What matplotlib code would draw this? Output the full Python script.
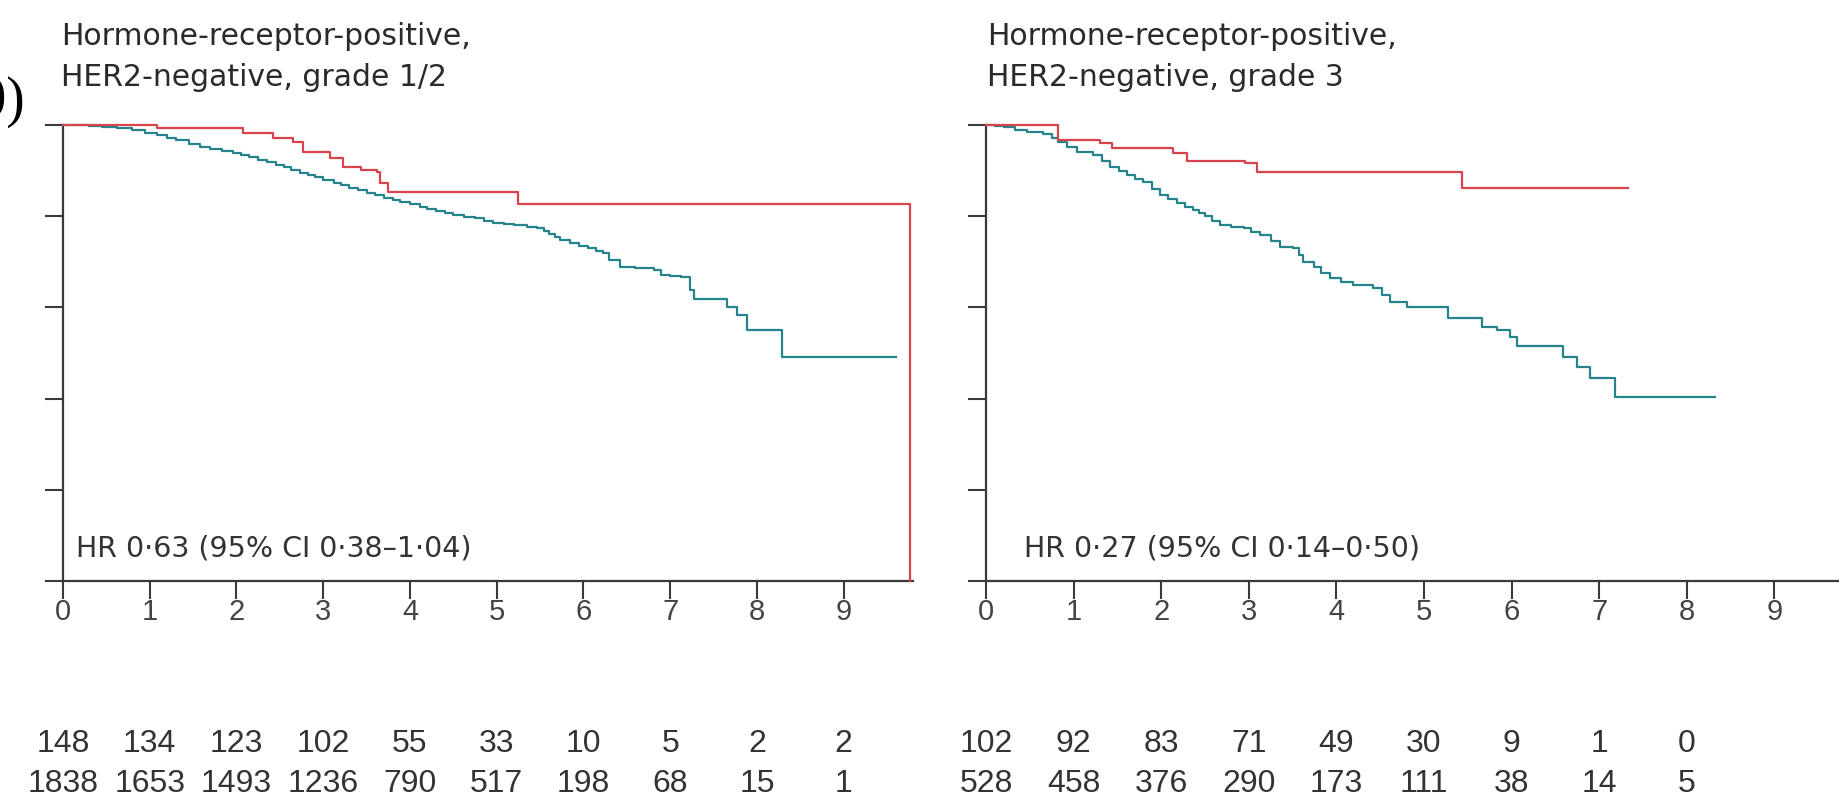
import matplotlib
matplotlib.use("Agg")
import matplotlib.pyplot as plt
import matplotlib.transforms as mtransforms

W, H, DPI = 1839, 805, 100

# ---- data -------------------------------------------------------------
years = list(range(10))

g12_title = ["Hormone-receptor-positive,", "HER2-negative, grade 1/2"]
g3_title = ["Hormone-receptor-positive,", "HER2-negative, grade 3"]
g12_hr = "HR 0\u00b763 (95% CI 0\u00b738\u20131\u00b704)"
g3_hr = "HR 0\u00b727 (95% CI 0\u00b714\u20130\u00b750)"

# Kaplan-Meier estimates: time (years) and survival proportion
g12_red_t = [0, 1.08, 2.08, 2.42, 2.65, 2.77, 3.08, 3.23, 3.43, 3.62, 3.66, 3.75, 5.25, 9.77]
g12_red_s = [1.0, 0.993, 0.982, 0.971, 0.963, 0.941, 0.928, 0.908, 0.901, 0.897, 0.873, 0.853, 0.827, 0.0]

g12_teal_t = [0, 0.15, 0.3, 0.45, 0.62, 0.8, 0.95, 1.08, 1.2, 1.3, 1.45, 1.58, 1.7, 1.83, 1.96,
              2.05, 2.15, 2.25, 2.35, 2.45, 2.55, 2.63, 2.73, 2.82, 2.9, 3.0, 3.12, 3.2, 3.3,
              3.4, 3.5, 3.6, 3.7, 3.8, 3.89, 4.0, 4.12, 4.2, 4.3, 4.4, 4.5, 4.62, 4.75, 4.85,
              4.96, 5.08, 5.2, 5.35, 5.47, 5.55, 5.6, 5.67, 5.73, 5.85, 5.95, 6.05, 6.15, 6.23,
              6.3, 6.42, 6.6, 6.81, 6.89, 7.0, 7.12, 7.23, 7.27, 7.66, 7.77, 7.89, 8.29, 9.6]
g12_teal_s = [1.0, 0.999, 0.997, 0.995, 0.993, 0.988, 0.983, 0.978, 0.972, 0.967, 0.959, 0.952,
              0.947, 0.943, 0.938, 0.934, 0.929, 0.924, 0.919, 0.913, 0.907, 0.901, 0.895, 0.89,
              0.885, 0.879, 0.873, 0.868, 0.862, 0.857, 0.851, 0.846, 0.84, 0.835, 0.831, 0.826,
              0.82, 0.816, 0.812, 0.808, 0.803, 0.799, 0.795, 0.79, 0.785, 0.782, 0.78, 0.777,
              0.774, 0.767, 0.76, 0.754, 0.748, 0.741, 0.735, 0.73, 0.724, 0.719, 0.705, 0.689,
              0.686, 0.682, 0.671, 0.669, 0.667, 0.638, 0.618, 0.601, 0.583, 0.55, 0.491, 0.491]

g3_red_t = [0, 0.82, 1.30, 1.44, 2.14, 2.29, 2.96, 3.09, 5.43, 7.33]
g3_red_s = [1.0, 0.967, 0.96, 0.949, 0.938, 0.921, 0.916, 0.897, 0.862, 0.862]

g3_teal_t = [0, 0.1, 0.2, 0.33, 0.47, 0.65, 0.75, 0.82, 0.93, 1.04, 1.22, 1.32, 1.42, 1.52,
             1.61, 1.7, 1.79, 1.9, 1.99, 2.08, 2.18, 2.27, 2.36, 2.43, 2.5, 2.58, 2.67, 2.8,
             2.94, 3.03, 3.13, 3.25, 3.36, 3.51, 3.57, 3.62, 3.74, 3.83, 3.93, 4.05, 4.19,
             4.42, 4.52, 4.61, 4.81, 5.27, 5.66, 5.83, 5.98, 6.06, 6.59, 6.75, 6.9, 7.18, 8.32]
g3_teal_s = [1.0, 0.998, 0.995, 0.99, 0.985, 0.98, 0.972, 0.963, 0.952, 0.941, 0.934, 0.921,
             0.908, 0.899, 0.89, 0.882, 0.875, 0.86, 0.846, 0.837, 0.829, 0.821, 0.814, 0.807,
             0.8, 0.79, 0.781, 0.777, 0.774, 0.766, 0.759, 0.746, 0.733, 0.73, 0.715, 0.7,
             0.689, 0.676, 0.664, 0.656, 0.649, 0.643, 0.627, 0.612, 0.601, 0.577, 0.557, 0.55,
             0.535, 0.515, 0.491, 0.469, 0.445, 0.404, 0.404]

# Numbers at risk at each whole year
g12_risk_red = [148, 134, 123, 102, 55, 33, 10, 5, 2, 2]
g12_risk_teal = [1838, 1653, 1493, 1236, 790, 517, 198, 68, 15, 1]
g3_risk_red = [102, 92, 83, 71, 49, 30, 9, 1, 0]
g3_risk_teal = [528, 458, 376, 290, 173, 111, 38, 14, 5]

# ---- style ------------------------------------------------------------
RED = "#d8434c"
TEAL = "#25838c"
AXIS = "#3a3a3a"
TEXT = "#2a2a2a"
SANS = ["DejaVu Sans"]
NUMS = ["Liberation Sans", "DejaVu Sans"]

fig = plt.figure(figsize=(W / DPI, H / DPI), dpi=DPI)
fig.patch.set_facecolor("white")


def box(left, top, right, bottom):
    """Axes rectangle from pixel edges (y measured from the top)."""
    return [left / W, 1 - bottom / H, (right - left) / W, (bottom - top) / H]


def fy(y):
    return 1 - y / H


def panel(rect, xmax, title, hr, red, teal, risk_red, risk_teal, title_x, hr_x):
    ax = fig.add_axes(rect)
    ax.step(teal[0], teal[1], where="post", color=TEAL, lw=1.6, clip_on=False, zorder=3)
    ax.step(red[0], red[1], where="post", color=RED, lw=1.6, clip_on=False, zorder=4)
    ax.set_xlim(0, xmax)
    ax.set_ylim(0, 1)
    ax.set_xticks(years)
    ax.set_yticks([0, 0.2, 0.4, 0.6, 0.8, 1.0])
    ax.tick_params(axis="both", direction="out", length=13, width=1.5, color=AXIS)
    ax.tick_params(axis="y", labelleft=False)
    ax.tick_params(axis="x", labelsize=21, labelcolor="#444444", pad=-1)
    for lab in ax.get_xticklabels():
        lab.set_family(NUMS)
    for side in ("top", "right"):
        ax.spines[side].set_visible(False)
    for side in ("left", "bottom"):
        ax.spines[side].set_linewidth(1.6)
        ax.spines[side].set_color(AXIS)

    for i, line in enumerate(title):
        fig.text(title_x / W, fy(45 + 41 * i), line, family=SANS, fontsize=21.5,
                 color=TEXT, ha="left", va="baseline")
    fig.text(hr_x / W, fy(556), hr, family=SANS, fontsize=20.5, color="#333333",
             ha="left", va="baseline")

    trans = mtransforms.blended_transform_factory(ax.transData, fig.transFigure)
    for x, n in zip(years, risk_red):
        ax.text(x, fy(752), str(n), transform=trans, family=NUMS, fontsize=23,
                color="#333333", ha="center", va="baseline")
    for x, n in zip(years, risk_teal):
        ax.text(x, fy(792), str(n), transform=trans, family=NUMS, fontsize=23,
                color="#333333", ha="center", va="baseline")
    return ax


panel(box(63, 125, 913, 581), 9.8, g12_title, g12_hr,
      (g12_red_t, g12_red_s), (g12_teal_t, g12_teal_s),
      g12_risk_red, g12_risk_teal, 61, 76)
panel(box(986, 125, 1840, 581), 9.75, g3_title, g3_hr,
      (g3_red_t, g3_red_s), (g3_teal_t, g3_teal_s),
      g3_risk_red, g3_risk_teal, 987, 1024)

# panel marker running off the left edge
fig.text(25 / W, fy(116), "(0)", family=["Liberation Serif", "DejaVu Serif"],
         fontsize=40, color="black", ha="right", va="baseline")

fig.savefig("out.png", dpi=DPI, facecolor="white")
